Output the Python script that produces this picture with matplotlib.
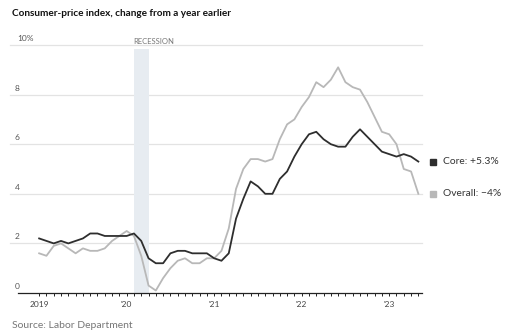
import matplotlib
matplotlib.use("Agg")
import matplotlib.pyplot as plt

# monthly CPI, Jan 2019 - May 2023, % change from a year earlier
overall = [1.6, 1.5, 1.9, 2.0, 1.8, 1.6, 1.8, 1.7, 1.7, 1.8, 2.1, 2.3,
           2.5, 2.3, 1.5, 0.3, 0.1, 0.6, 1.0, 1.3, 1.4, 1.2, 1.2, 1.4,
           1.4, 1.7, 2.6, 4.2, 5.0, 5.4, 5.4, 5.3, 5.4, 6.2, 6.8, 7.0,
           7.5, 7.9, 8.5, 8.3, 8.6, 9.1, 8.5, 8.3, 8.2, 7.7, 7.1, 6.5,
           6.4, 6.0, 5.0, 4.9, 4.0]
core = [2.2, 2.1, 2.0, 2.1, 2.0, 2.1, 2.2, 2.4, 2.4, 2.3, 2.3, 2.3,
        2.3, 2.4, 2.1, 1.4, 1.2, 1.2, 1.6, 1.7, 1.7, 1.6, 1.6, 1.6,
        1.4, 1.3, 1.6, 3.0, 3.8, 4.5, 4.3, 4.0, 4.0, 4.6, 4.9, 5.5,
        6.0, 6.4, 6.5, 6.2, 6.0, 5.9, 5.9, 6.3, 6.6, 6.3, 6.0, 5.7,
        5.6, 5.5, 5.6, 5.5, 5.3]
months = list(range(len(core)))
year_ticks = [0, 12, 24, 36, 48]
year_labels = ["2019", "'20", "'21", "'22", "'23"]
y_ticks = [0, 2, 4, 6, 8, 10]
y_labels = ["0", "2", "4", "6", "8", "10%"]
recession = (13, 15)

plt.rcParams['font.family'] = ['Lato', 'DejaVu Sans']

fig = plt.figure(figsize=(5.2, 3.35), dpi=100)
ax = fig.add_axes([18 / 520, 42 / 335, 404 / 520, 248 / 335])
ax.set_xlim(-2.9, 52.5)
ax.set_ylim(0, 10)

# gridlines run a bit to the left under the labels
for y in y_ticks[1:]:
    ax.plot([-0.02, 1.0], [y, y], transform=ax.get_yaxis_transform(),
            color='#e3e3e3', lw=0.9, clip_on=False, zorder=0)

for y, lab in zip(y_ticks, y_labels):
    ax.text(-0.008 if lab != "10%" else -0.003, y + 0.12, lab,
            transform=ax.get_yaxis_transform(), ha='left', va='bottom',
            fontsize=6, color='#555555')

ax.axvspan(recession[0], recession[1], ymax=0.985, color='#e7ecf1', lw=0, zorder=0)
ax.text(recession[0] - 0.1, 10.0, "RECESSION", fontsize=5.5, color='#777777',
        ha='left', va='bottom')

ax.plot(months, overall, color='#b8b8b8', lw=1.3, zorder=2)
ax.plot(months, core, color='#2e2e2e', lw=1.3, zorder=3)

# end labels
for vals, col, lab in [(core, '#2e2e2e', "Core: +5.3%"),
                       (overall, '#b8b8b8', "Overall: \u22124%")]:
    ax.plot([months[-1] + 1.95], [vals[-1]], marker='s', ms=5, color=col,
            clip_on=False, lw=0)
    ax.annotate(lab, xy=(months[-1], vals[-1]), xytext=(18, 0),
                textcoords='offset points', va='center', ha='left',
                fontsize=7.4, color='#333333', annotation_clip=False)

for s in ['top', 'right', 'left']:
    ax.spines[s].set_visible(False)
ax.spines['bottom'].set_color('#222222')
ax.spines['bottom'].set_linewidth(0.9)
ax.set_yticks([])
ax.set_xticks(year_ticks)
ax.set_xticklabels(year_labels)
ax.set_xticks(months, minor=True)
ax.tick_params(axis='x', which='both', length=2.5, width=0.7, color='#222222',
               labelsize=6, labelcolor='#444444', pad=3)

fig.text(12 / 520, 1 - 14 / 335, "Consumer-price index, change from a year earlier",
         fontsize=7.2, fontweight='bold', color='#111111', va='center')
fig.text(12 / 520, 1 - 325 / 335, "Source: Labor Department",
         fontsize=7.5, color='#777777', va='center')

fig.savefig("out.png", dpi=100)
